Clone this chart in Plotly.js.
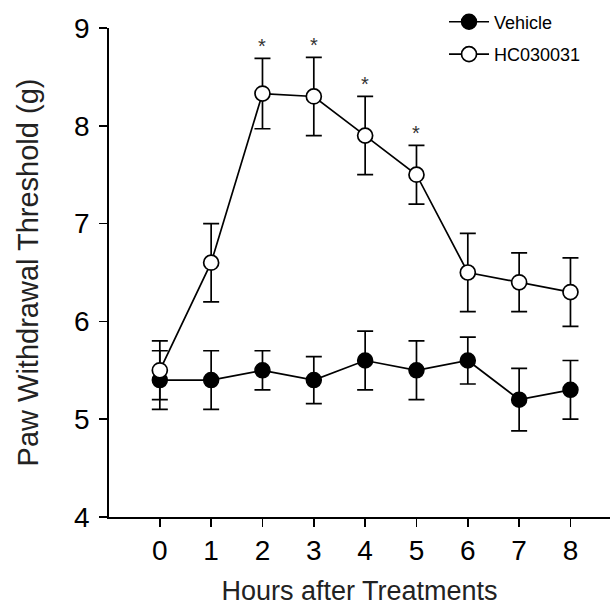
<!DOCTYPE html>
<html>
<head>
<meta charset="utf-8">
<script src="https://cdn.plot.ly/plotly-3.0.1.min.js"></script>
<style>
  html, body { margin: 0; padding: 0; background: #fff; }
  #chart { width: 610px; height: 607px; }
</style>
</head>
<body>
<div id="chart"></div>
<script>
// Time points (hours after treatment)
const hours = [0, 1, 2, 3, 4, 5, 6, 7, 8];

// Paw withdrawal threshold (g), mean and SEM
const vehicleMean = [5.4, 5.4, 5.5, 5.4, 5.6, 5.5, 5.6, 5.2, 5.3];
const vehicleErr  = [0.3, 0.3, 0.2, 0.24, 0.3, 0.3, 0.24, 0.32, 0.3];
const hcMean = [5.5, 6.6, 8.33, 8.3, 7.9, 7.5, 6.5, 6.4, 6.3];
const hcErr  = [0.3, 0.4, 0.36, 0.4, 0.4, 0.3, 0.4, 0.3, 0.35];

// Hours at which HC030031 differs significantly from vehicle
const significantHours = [2, 3, 4, 5];

const seriesNames = ['Vehicle', 'HC030031'];
const yTicks = [4, 5, 6, 7, 8, 9];

const FONT = 'Arial, "Liberation Sans", Helvetica, sans-serif';

function errBar(arr) {
  return { type: 'data', array: arr, visible: true, color: '#000', thickness: 1.7, width: 8 };
}

const vehicle = {
  x: hours, y: vehicleMean, name: seriesNames[0],
  type: 'scatter', mode: 'lines+markers',
  line: { color: '#000', width: 1.7 },
  marker: { symbol: 'circle', size: 15, color: '#000', line: { color: '#000', width: 1.5 } },
  error_y: errBar(vehicleErr),
  legendgroup: 'a'
};

const hc = {
  x: hours, y: hcMean, name: seriesNames[1],
  type: 'scatter', mode: 'lines+markers',
  line: { color: '#000', width: 1.7 },
  marker: { symbol: 'circle', size: 15, color: '#fff', line: { color: '#000', width: 1.7 } },
  error_y: errBar(hcErr),
  legendgroup: 'b'
};

// Significance stars sit just above the upper error cap
const stars = significantHours.map(h => {
  const i = hours.indexOf(h);
  return {
    x: h, y: hcMean[i] + hcErr[i], xref: 'x', yref: 'y',
    text: '*', showarrow: false, yanchor: 'bottom', yshift: -1,
    font: { family: FONT, size: 20, color: '#333' }
  };
});

const layout = {
  width: 610, height: 607,
  margin: { l: 109, r: 0, t: 28, b: 90, pad: 0 },
  paper_bgcolor: '#fff', plot_bgcolor: '#fff',
  font: { family: FONT, color: '#000' },
  showlegend: true,
  legend: {
    x: 0.6687, y: 1.05, xanchor: 'left', yanchor: 'top',
    font: { family: FONT, size: 18, color: '#000' },
    bgcolor: 'rgba(0,0,0,0)', borderwidth: 0,
    itemwidth: 40,
    traceorder: 'grouped', tracegroupgap: 6
  },
  xaxis: {
    range: [-0.99, 8.77],
    tickmode: 'array', tickvals: hours, ticktext: hours.map(String),
    ticks: 'outside', ticklen: 8, tickwidth: 1.5, tickcolor: '#000',
    showline: true, linecolor: '#000', linewidth: 1.8,
    showgrid: false, zeroline: false,
    tickfont: { family: FONT, size: 28, color: '#000' },
    title: { text: 'Hours after Treatments', font: { family: FONT, size: 27, color: '#222' }, standoff: 16 }
  },
  yaxis: {
    range: [4, 9],
    tickmode: 'array', tickvals: yTicks, ticktext: yTicks.map(String),
    ticks: 'outside', ticklen: 8, tickwidth: 1.5, tickcolor: '#000',
    showline: true, linecolor: '#000', linewidth: 1.8,
    showgrid: false, zeroline: false,
    tickfont: { family: FONT, size: 28, color: '#000' },
    ticklabelstandoff: 4,
    title: { text: 'Paw Withdrawal Threshold (g)', font: { family: FONT, size: 29, color: '#222' }, standoff: 27 }
  },
  annotations: stars
};

Plotly.newPlot('chart', [vehicle, hc], layout, { displayModeBar: false, staticPlot: true });
</script>
</body>
</html>
